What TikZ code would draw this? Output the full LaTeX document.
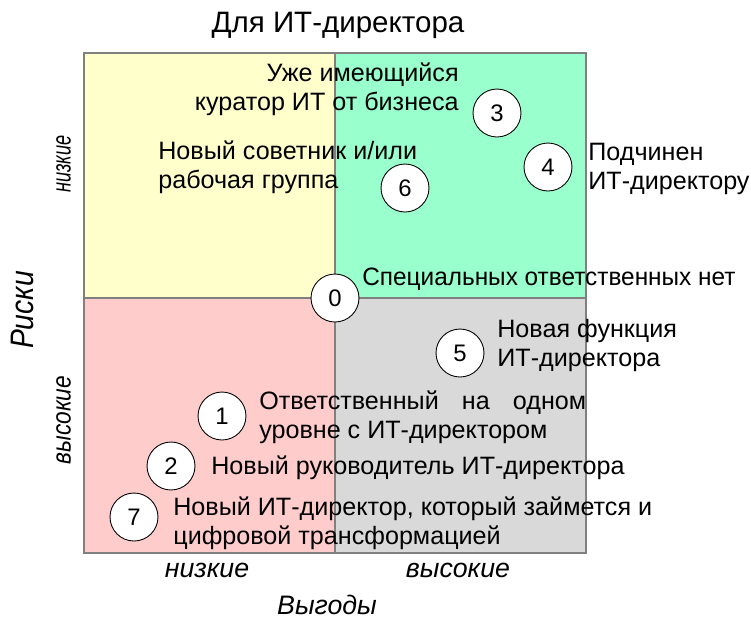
\documentclass[tikz,border=0pt]{standalone}
\usepackage{fontspec}
\setmainfont{Liberation Sans}
\usepackage{xcolor}
\definecolor{lowyel}{HTML}{FFFFCC}
\definecolor{higreen}{HTML}{99FFCC}
\definecolor{lowpink}{HTML}{FFCCCC}
\definecolor{higray}{HTML}{D9D9D9}
\definecolor{edgegray}{HTML}{808080}
\begin{document}
\begin{tikzpicture}[scale=0.2]
        \tikzstyle{every node}+=[inner sep=0pt]
        \tikzstyle{num}=[circle, draw=black, line width=0.5pt, fill=white, minimum size=27.3pt, font=\fontsize{13.6}{16}\selectfont]
        \tikzstyle{txt}=[font=\fontsize{14.3}{16.5}\selectfont]
        \tikzstyle{axis}=[font=\itshape\fontsize{15.2}{17}\selectfont]
        \useasboundingbox (0,0) rectangle (75.1,-61.8);
        \draw [edgegray, line width=1pt, fill=lowyel] (8.4,-5.3) rectangle (33.5,-29.8);
        \draw [edgegray, line width=1pt, fill=higreen] (33.5,-5.3) rectangle (58.6,-29.8);
        \draw [edgegray, line width=1pt, fill=lowpink] (8.4,-29.8) rectangle (33.5,-55.3);
        \draw [edgegray, line width=1pt, fill=higray] (33.5,-29.8) rectangle (58.6,-55.3);
        \node [font=\fontsize{16.8}{19}\selectfont] (title) at (33.8,-2.5) {Для ИТ-директора};
        \node [font=\itshape\fontsize{18.5}{20}\selectfont, rotate=90] (risk) at (2.2,-31) {\scalebox{0.87}[1]{Риски}};
        \node [axis, rotate=90] (rlow) at (6.35,-16.4) {\scalebox{0.68}[1]{низкие}};
        \node [axis, rotate=90] (rhigh) at (6.35,-42) {\scalebox{0.85}[1]{высокие}};
        \node [axis] (blow) at (20.7,-57) {низкие};
        \node [axis] (bhigh) at (45.8,-57) {высокие};
        \node [axis] (gain) at (32.7,-60.5) {Выгоды};
        \node [txt, anchor=east, align=right] (t3) at (45.9,-8.95) {Уже имеющийся\\куратор ИТ от бизнеса};
        \node [txt, anchor=west, align=left] (t6) at (15.8,-16.7) {Новый советник и/или\\рабочая группа};
        \node [txt, anchor=west, align=left] (t4) at (58.8,-16.9) {Подчинен\\ИТ-директору};
        \node [txt, anchor=west] (t0) at (36.2,-27.9) {\scalebox{0.97}[1]{Специальных ответственных нет}};
        \node [txt, anchor=west, align=left] (t5) at (49.7,-34.55) {Новая функция\\ИТ-директора};
        \node [txt, anchor=west, align=left] (t1) at (25.9,-41.7) {\makebox[186pt][s]{Ответственный на одном}\\уровне с ИТ-директором};
        \node [txt, anchor=west] (t2) at (21.1,-46.8) {Новый руководитель ИТ-директора};
        \node [txt, anchor=west, align=left] (t7) at (17.3,-52.3) {Новый ИТ-директор, который займется и\\цифровой трансформацией};
        \node [num] (c0) at (33.5,-29.8) {0};
        \node [num] (c1) at (22.2,-41.6) {1};
        \node [num] (c2) at (17.1,-46.6) {2};
        \node [num] (c3) at (49.7,-11.3) {3};
        \node [num] (c4) at (54.8,-16.7) {4};
        \node [num] (c5) at (46,-35.3) {5};
        \node [num] (c6) at (40.5,-18.8) {6};
        \node [num] (c7) at (13.4,-51.7) {7};
\end{tikzpicture}
\end{document}
